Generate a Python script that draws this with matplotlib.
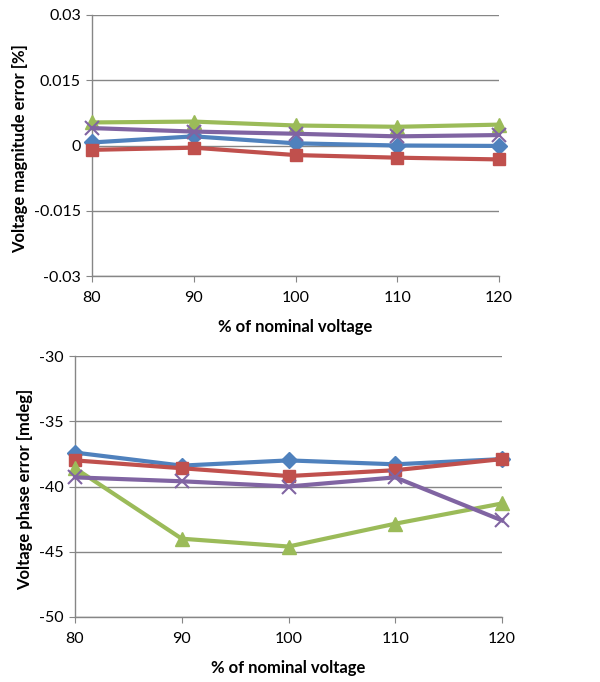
import matplotlib
matplotlib.use("Agg")
import matplotlib.pyplot as plt

plt.rcParams['font.family'] = ['Lato', 'DejaVu Sans']
plt.rcParams['axes.unicode_minus'] = False

x = [80, 90, 100, 110, 120]
x_ticks = [80, 90, 100, 110, 120]

mag_blue = [0.0007, 0.0021, 0.0005, 0.0000, -0.0001]
mag_red = [-0.0010, -0.0005, -0.0022, -0.0028, -0.0032]
mag_green = [0.0053, 0.0055, 0.0046, 0.0043, 0.0048]
mag_purple = [0.0040, 0.0032, 0.0027, 0.0021, 0.0024]
mag_ticks = [-0.03, -0.015, 0, 0.015, 0.03]
mag_tick_labels = ['-0.03', '-0.015', '0', '0.015', '0.03']

ph_blue = [-37.4, -38.4, -38.0, -38.3, -37.9]
ph_red = [-38.0, -38.6, -39.2, -38.75, -37.9]
ph_green = [-38.6, -44.0, -44.6, -42.85, -41.3]
ph_purple = [-39.3, -39.6, -40.0, -39.3, -42.6]
ph_ticks = [-50, -45, -40, -35, -30]

colors = {'blue': '#4F81BD', 'red': '#C0504D', 'green': '#9BBB59', 'purple': '#8064A2'}

fig = plt.figure(figsize=(6.0, 6.82), dpi=100)
W, H = 600, 682
ax1 = fig.add_axes([92 / W, 1 - 276 / H, (499 - 92) / W, (276 - 15) / H])
ax2 = fig.add_axes([75 / W, 1 - 617 / H, (502 - 75) / W, (617 - 356) / H])


def style(ax, yticks, ylabels, ylim, ylabel, label_x):
    ax.set_xlim(80, 120)
    ax.set_ylim(*ylim)
    ax.set_xticks(x_ticks)
    ax.set_yticks(yticks)
    if ylabels is not None:
        ax.set_yticklabels(ylabels)
    for s in ['top', 'right']:
        ax.spines[s].set_visible(False)
    for s in ['left', 'bottom']:
        ax.spines[s].set_color('#868686')
        ax.spines[s].set_linewidth(1.0)
    ax.yaxis.grid(True, color='#868686', linewidth=1.0)
    ax.set_axisbelow(True)
    ax.tick_params(axis='both', direction='out', length=4, color='#868686',
                   labelsize=11.5)
    ax.tick_params(axis='y', pad=4)
    ax.tick_params(axis='x', pad=7)
    ax.set_xlabel('% of nominal voltage', fontsize=12, fontweight='bold', labelpad=10)
    ax.set_ylabel(ylabel, fontsize=12, fontweight='bold', va='center')
    ax.yaxis.set_label_coords(label_x, 0.49)


def draw(ax, b, r, g, p):
    ax.plot(x, b, color=colors['blue'], lw=3, marker='D', ms=8, clip_on=False, zorder=3)
    ax.plot(x, r, color=colors['red'], lw=3, marker='s', ms=9, clip_on=False, zorder=4)
    ax.plot(x, g, color=colors['green'], lw=3, marker='^', ms=10, clip_on=False, zorder=5)
    ax.plot(x, p, color=colors['purple'], lw=3, marker='x', ms=10, mew=1.5, clip_on=False, zorder=6)


draw(ax1, mag_blue, mag_red, mag_green, mag_purple)
style(ax1, mag_ticks, mag_tick_labels, (-0.03, 0.03), 'Voltage magnitude error [%]', -72 / 407)

draw(ax2, ph_blue, ph_red, ph_green, ph_purple)
style(ax2, ph_ticks, None, (-50, -30), 'Voltage phase error [mdeg]', -50 / 427)

fig.savefig('out.png', dpi=100)
